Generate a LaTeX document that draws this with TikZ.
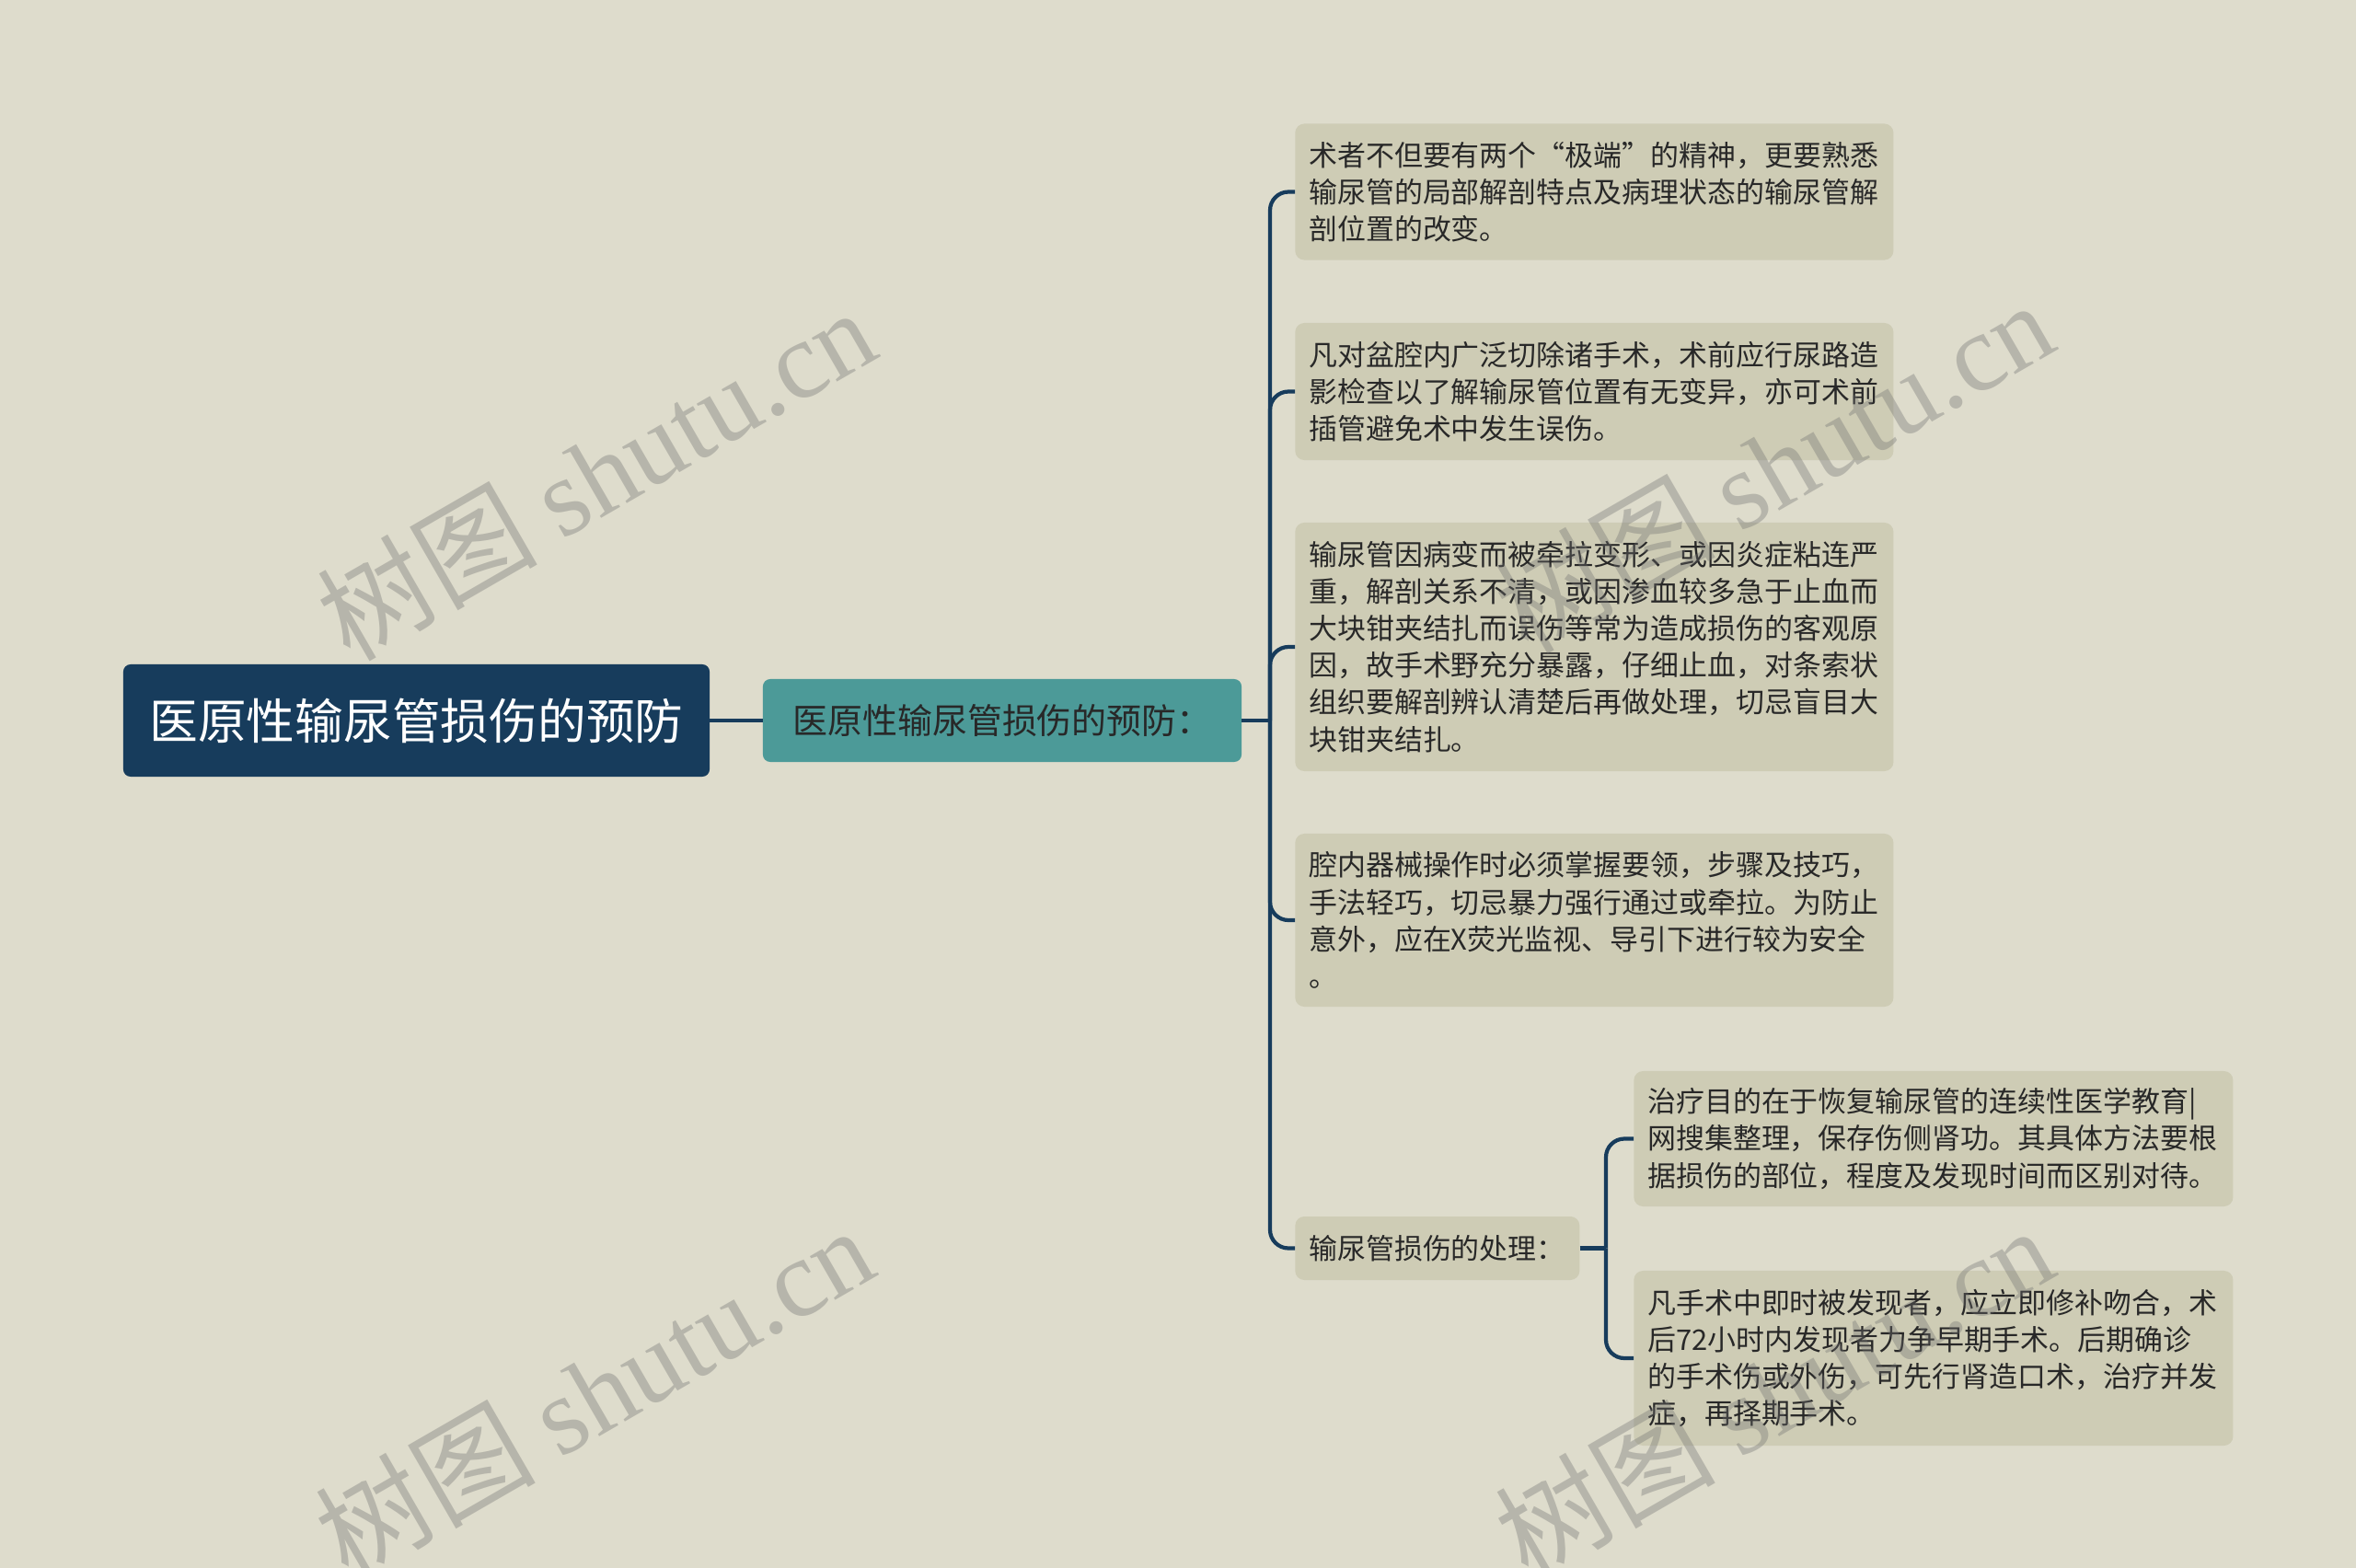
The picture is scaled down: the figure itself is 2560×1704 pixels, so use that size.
\documentclass[tikz,border=0pt]{standalone}
\usepackage{fontspec}
\setmainfont{Noto Sans CJK SC}
\newfontfamily\wmfont{Liberation Serif}
\definecolor{bgc}{RGB}{222,220,204}
\definecolor{leafc}{RGB}{206,204,181}
\definecolor{rootc}{RGB}{23,60,92}
\definecolor{tealc}{RGB}{76,154,152}
\definecolor{linec}{RGB}{23,60,92}
\definecolor{txtc}{RGB}{40,40,40}
\definecolor{wmc}{RGB}{110,110,110}
\begin{document}
\begin{tikzpicture}[x=0.025cm,y=-0.025cm,
  rootbox/.style={fill=rootc, text=white, rounded corners=0.2cm, minimum width=15.925cm, minimum height=3.05cm, inner sep=0pt, font=\fontsize{37.5}{42}\selectfont},
  lonebox/.style={fill=tealc, text=txtc, rounded corners=0.2cm, minimum width=13cm, minimum height=2.25cm, inner sep=0pt, font=\fontsize{27}{32}\selectfont},
  leafbox/.style={fill=leafc, text=txtc, rounded corners=0.25cm, anchor=west, minimum width=16.25cm, text width=15.5cm, inner xsep=0.375cm, inner ysep=0pt, align=left, font=\fontsize{22}{28.5}\selectfont},
  conn/.style={draw=linec, line width=3pt, rounded corners=0.5cm},
  wm/.style={text=wmc, opacity=0.35, rotate=30, font=\fontsize{85}{90}\selectfont, inner sep=0pt}]
\fill[bgc] (0,0) rectangle (2560,1704);
\useasboundingbox (0,0) rectangle (2560,1704);

\node[rootbox] (root) at (452.5,783) {医原性输尿管损伤的预防};
\node[lonebox] (l1) at (1089,783) {医原性输尿管损伤的预防：};

\node[leafbox, minimum height=3.7cm] (a1) at (1407,208.5) {术者不但要有两个“极端”的精神，更要熟悉\\输尿管的局部解剖特点及病理状态的输尿管解\\剖位置的改变。};
\node[leafbox, minimum height=3.725cm] (a2) at (1407,425.5) {凡对盆腔内广泛切除诸手术，术前应行尿路造\\影检查以了解输尿管位置有无变异，亦可术前\\插管避免术中发生误伤。};
\node[leafbox, minimum height=6.75cm] (a3) at (1407,703) {输尿管因病变而被牵拉变形、或因炎症粘连严\\重，解剖关系不清，或因渗血较多急于止血而\\大块钳夹结扎而误伤等常为造成损伤的客观原\\因，故手术野充分暴露，仔细止血，对条索状\\组织要解剖辨认清楚后再做处理，切忌盲目大\\块钳夹结扎。};
\node[leafbox, minimum height=4.7cm] (a4) at (1407,1000) {腔内器械操作时必须掌握要领，步骤及技巧，\\手法轻巧，切忌暴力强行通过或牵拉。为防止\\意外，应在X荧光监视、导引下进行较为安全\\。};
\node[leafbox, minimum height=1.725cm, minimum width=7.725cm, text width=6.975cm] (a5) at (1407,1356.5) {输尿管损伤的处理：};

\node[leafbox, minimum height=3.675cm, minimum width=16.275cm, text width=15.525cm] (s1) at (1775,1237.5) {治疗目的在于恢复输尿管的连续性医学教育|\\网搜集整理，保存伤侧肾功。其具体方法要根\\据损伤的部位，程度及发现时间而区别对待。};
\node[leafbox, minimum height=4.75cm, minimum width=16.275cm, text width=15.525cm] (s2) at (1775,1476) {凡手术中即时被发现者，应立即修补吻合，术\\后72小时内发现者力争早期手术。后期确诊\\的手术伤或外伤，可先行肾造口术，治疗并发\\症，再择期手术。};

\draw[conn] (root.east) -- (l1.west);
\coordinate (b1) at (1380,783);
\draw[conn] (l1.east) -- (b1);
\foreach \n in {a1,a2,a3,a4,a5} {\draw[conn] (b1) |- (\n.west);}
\coordinate (b2) at (1745,1356.5);
\draw[conn] (a5.east) -- (b2);
\foreach \n in {s1,s2} {\draw[conn] (b2) |- (\n.west);}

\node[wm] (w1) at (647,514) {树图 {\wmfont shutu.cn}};
\node[wm] (w2) at (1927,506) {树图 {\wmfont shutu.cn}};
\node[wm] (w3) at (645,1512) {树图 {\wmfont shutu.cn}};
\node[wm] (w4) at (1927,1512) {树图 {\wmfont shutu.cn}};
\end{tikzpicture}
\end{document}
